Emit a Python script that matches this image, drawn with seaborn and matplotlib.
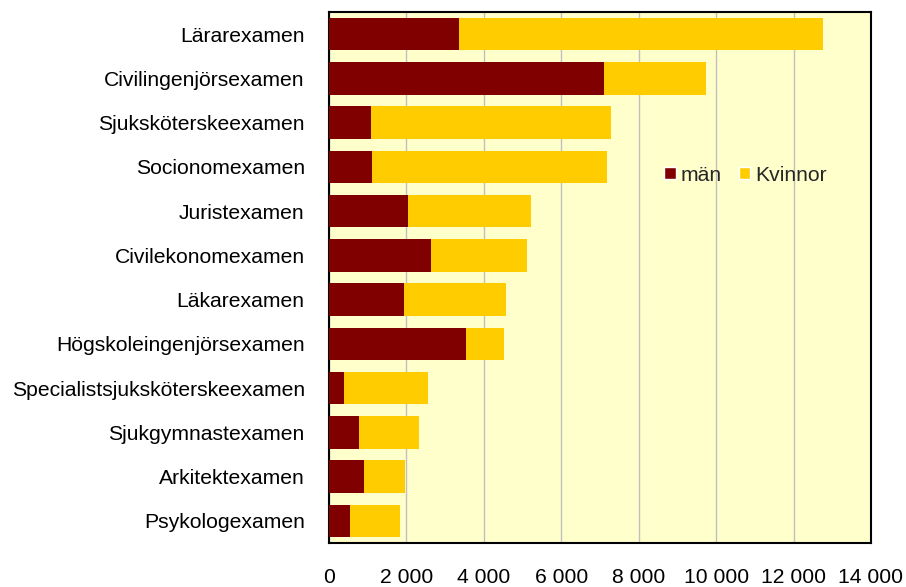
import numpy as np
import pandas as pd
import matplotlib
matplotlib.use("Agg")
import matplotlib.pyplot as plt
import seaborn as sns
from matplotlib.patches import Patch
from matplotlib.ticker import FuncFormatter

categories = ["Lärarexamen", "Civilingenjörsexamen", "Sjuksköterskeexamen", "Socionomexamen",
              "Juristexamen", "Civilekonomexamen", "Läkarexamen", "Högskoleingenjörsexamen",
              "Specialistsjuksköterskeexamen", "Sjukgymnastexamen", "Arkitektexamen", "Psykologexamen"]
man = [3350, 7100, 1090, 1115, 2030, 2640, 1935, 3550, 390, 775, 895, 535]
kvinnor = [9400, 2650, 6190, 6075, 3195, 2485, 2625, 965, 2165, 1550, 1070, 1310]
xticks = [0, 2000, 4000, 6000, 8000, 10000, 12000, 14000]

df = pd.DataFrame({"cat": categories, "män": man, "Kvinnor": kvinnor})
df["total"] = df["män"] + df["Kvinnor"]

sns.set_style("white")
plt.rcParams["font.family"] = ["Liberation Sans", "DejaVu Sans"]

fig = plt.figure(figsize=(9.06, 5.87), dpi=100)
ax = fig.add_axes([329/906, 1-543/587, 542/906, 531/587])
ax.set_facecolor("#FFFFCC")

c_man = "#800000"
c_kv = "#FFCC00"
sns.barplot(data=df, y="cat", x="total", color=c_kv, orient="h", ax=ax, width=0.74,
            saturation=1, linewidth=0, zorder=2)
sns.barplot(data=df, y="cat", x="män", color=c_man, orient="h", ax=ax, width=0.74,
            saturation=1, linewidth=0, zorder=3)

fs = 15.2
ax.set_xlim(0, 14000)
ax.set_ylim(11.5, -0.5)
ax.set_xticks(xticks)
ax.xaxis.set_major_formatter(FuncFormatter(lambda v, p: f"{int(v):,}".replace(",", " ")))
ax.grid(axis="x", color="#C0C0C0", linewidth=1, zorder=0)
ax.set_axisbelow(True)
ax.set_xlabel("")
ax.set_ylabel("")
for s in ax.spines.values():
    s.set_color("black")
    s.set_linewidth(1.5)
    s.set_visible(True)
ax.tick_params(axis="x", direction="out", length=5, width=1, color="black",
               pad=13, labelsize=fs, labelcolor="black")
ax.tick_params(axis="y", length=0, pad=17.5, labelsize=fs, labelcolor="black")

handles = [Patch(facecolor=c_man, label="män"), Patch(facecolor=c_kv, label="Kvinnor")]
ax.legend(handles=handles, loc="center left", bbox_to_anchor=(0.618, 0.693), ncol=2,
          frameon=False, fontsize=fs, handlelength=0.55, handleheight=0.55,
          handletextpad=0.25, columnspacing=0.8, borderpad=0, borderaxespad=0)

fig.savefig("out.png", dpi=100)
